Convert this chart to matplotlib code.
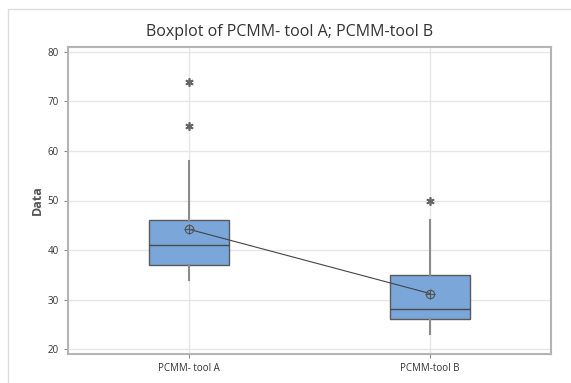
import matplotlib
matplotlib.use('Agg')
import matplotlib.pyplot as plt
from matplotlib.patches import Rectangle

categories = ['PCMM- tool A', 'PCMM-tool B']
q1 = [37, 26]
medians = [41, 28]
q3 = [46, 35]
whislo = [34, 23]
whishi = [58, 46]
means = [44.2, 31.2]
outliers = [[65, 74], [50]]
yticks = [20, 30, 40, 50, 60, 70, 80]

plt.rcParams['font.family'] = ['Open Sans', 'DejaVu Sans']

fig = plt.figure(figsize=(5.71, 3.83), dpi=100)
ax = fig.add_axes([68/571, 1-354/383, (551-68)/571, (354-47)/383])

# outer frame of the graph window
fig.patches.append(Rectangle((8/571, -0.05), 1.1, 1-9/383+0.05, transform=fig.transFigure,
                             fill=False, edgecolor='#dcdcdc', linewidth=1))

stats = []
for i in range(len(categories)):
    stats.append(dict(label=categories[i], q1=q1[i], med=medians[i], q3=q3[i],
                      whislo=whislo[i], whishi=whishi[i], fliers=outliers[i], mean=means[i]))

pos = [1, 2]
ax.bxp(stats, positions=pos, widths=0.33, patch_artist=True, showcaps=False, showmeans=False,
       boxprops=dict(facecolor='#7aa6da', edgecolor='#5a5a5a', linewidth=1),
       medianprops=dict(color='#4a4a4a', linewidth=1),
       whiskerprops=dict(color='#8c8c8c', linewidth=1.5),
       flierprops=dict(marker=(6, 2, 0), markersize=6, markerfacecolor='#666666',
                       markeredgecolor='#666666', markeredgewidth=1.2, linestyle='none'))

ax.plot(pos, means, color='#444444', linewidth=0.8, zorder=4)
ax.plot(pos, means, linestyle='none', marker='o', markersize=6, markerfacecolor='none',
        markeredgecolor='#555555', markeredgewidth=0.8, zorder=5)
ax.plot(pos, means, linestyle='none', marker='+', markersize=7, color='#555555',
        markeredgewidth=0.8, zorder=5)

ax.set_xlim(0.5, 2.5)
ax.set_ylim(19, 81)
ax.set_yticks(yticks)
ax.set_xticks(pos)
ax.set_xticklabels(categories)
ax.tick_params(axis='both', labelsize=7, colors='#8c8c8c', labelcolor='#333333', length=3)
ax.grid(True, color='#e6e6e6', linewidth=1)
ax.set_axisbelow(True)
for s in ax.spines.values():
    s.set_color('#b4b4b4')
    s.set_linewidth(1.5)

ax.set_ylabel('Data', fontsize=9, color='#555555', fontweight='bold', labelpad=3)
fig.text(290/571, 1-32/383, 'Boxplot of PCMM- tool A; PCMM-tool B', ha='center', va='center',
         fontsize=11.5, color='#333333', fontweight='medium')

fig.savefig('out.png', dpi=100)
